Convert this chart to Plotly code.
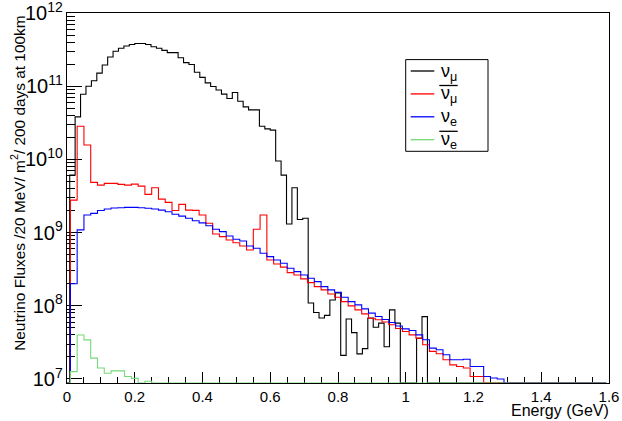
import plotly.graph_objects as go

# ---------------- data ----------------
# nu_mu: 0.016 GeV bins centred at k*0.016 (k = 0..99)
numu_bin_width = 0.016
numu = [0, 6.1e9, 3.81e10, 7.76e10, 1.0e11, 1.19e11, 1.51e11, 1.95e11, 2.51e11, 3.0e11,
        3.31e11, 3.55e11, 3.71e11, 3.83e11, 3.83e11, 3.71e11, 3.47e11, 3.30e11, 3.09e11, 2.88e11,
        2.88e11, 2.45e11, 2.10e11, 1.98e11, 1.55e11, 1.32e11, 1.11e11, 9.9e10, 8.9e10, 7.8e10,
        6.8e10, 8.2e10, 6.24e10, 5.22e10, 4.75e10, 4.75e10, 2.84e10, 2.61e10, 2.51e10, 9.5e9,
        6.1e9, 1.31e9, 4.1e9, 1.51e9, 1.57e9, 1.09e8, 8.1e7, 6.8e7, 7.4e7, 1.2e8,
        1.5e8, 2.1e7, 6.6e7, 4.3e7, 2.2e7, 2.6e7, 6.8e7, 5.1e7, 5.8e7, 2.75e7,
        8.8e7, 5.8e7, 0, 0, 0, 3.6e7, 7.1e7, 0, 0, 0,
        0, 0, 0, 0, 0, 0, 0, 0, 0, 0,
        0, 0, 0, 0, 0, 0, 0, 0, 0, 0,
        0, 0, 0, 0, 0, 0, 0, 0, 0, 0]

# other flavours: 0.02 GeV bins centred at k*0.02 (k = 0..79)
other_bin_width = 0.02
numubar = [0, 2.78e9, 2.84e10, 1.57e10, 4.85e9, 4.46e9, 4.70e9, 4.70e9, 4.56e9, 4.46e9,
           4.60e9, 4.32e9, 3.33e9, 4.10e9, 2.87e9, 2.59e9, 2.0e9, 2.43e9, 2.03e9, 2.01e9,
           1.74e9, 1.34e9, 9.55e8, 8.8e8, 7.94e8, 7.28e8, 6.56e8, 5.79e8, 1.11e9, 1.74e9,
           4.23e8, 3.72e8, 3.37e8, 2.84e8, 2.64e8, 2.33e8, 2.07e8, 1.83e8, 1.65e8, 1.45e8,
           1.31e8, 1.14e8, 9.98e7, 8.8e7, 7.76e7, 6.76e7, 6.46e7, 6.0e7, 5.5e7, 4.9e7,
           4.45e7, 4.0e7, 3.61e7, 2.93e7, 2.38e7, 2.21e7, 1.83e7, 1.56e7, 1.48e7, 1.41e7,
           1.08e7, 1.08e7, 0, 0, 0, 0, 0, 0, 0, 0,
           0, 0, 0, 0, 0, 0, 0, 0, 0, 0]

nue = [0, 2.0e8, 1.09e9, 1.74e9, 1.83e9, 2.0e9, 2.10e9, 2.17e9, 2.19e9, 2.21e9,
       2.21e9, 2.19e9, 2.15e9, 2.10e9, 2.03e9, 1.93e9, 1.78e9, 1.68e9, 1.57e9, 1.45e9,
       1.36e9, 1.24e9, 1.11e9, 1.03e9, 9.0e8, 8.1e8, 7.67e8, 6.56e8, 6.11e8, 5.22e8,
       4.69e8, 4.23e8, 3.81e8, 3.26e8, 2.93e8, 2.64e8, 2.38e8, 2.14e8, 1.83e8, 1.65e8,
       1.53e8, 1.31e8, 1.14e8, 1.03e8, 9.08e7, 7.94e7, 7.13e7, 6.5e7, 5.9e7, 5.3e7,
       4.84e7, 4.59e7, 4.01e7, 3.43e7, 2.64e7, 2.51e7, 2.14e7, 1.83e7, 1.83e7, 1.86e7,
       1.48e7, 1.48e7, 1.08e7, 1.03e7, 1.0e7, 0, 0, 0, 0, 0,
       0, 0, 0, 0, 0, 0, 0, 0, 0, 0]

nuebar = [0, 1.26e7, 3.98e7, 3.42e7, 1.93e7, 1.41e7, 1.2e7, 1.29e7, 1.29e7, 1.08e7,
          1.02e7, 0, 9.3e6, 0, 0, 0, 0, 0, 0, 0] + [0] * 60

x_title = "Energy (GeV)"
y_title = "Neutrino Fluxes /20 MeV/ m<sup>2</sup>/ 200 days at 100km"
legend_labels = ["ν<sub>μ</sub>", "ν<sub>μ</sub>", "ν<sub>e</sub>", "ν<sub>e</sub>"]
legend_overline = [False, True, False, True]

# ---------------- styling / layout ----------------
W, H = 622, 421
L, R, T, B = 67, 609, 12.7, 382.7
YMIN, YMAX = 6.945, 12.0005
FLOOR = 10 ** YMIN
FONT = "Liberation Sans, Arial, Helvetica, sans-serif"

colors = ["#000000", "#ff0000", "#0000ff", "#77d877"]


def px_x(px):
    return (px - L) / (R - L)


def px_y(py):
    return 1 - (py - T) / (B - T)


def step_trace(values, width, color):
    n = len(values)
    edges = [(k - 0.5) * width for k in range(n + 1)]
    ys = [v if v > 0 else FLOOR for v in values]
    ys = ys + [ys[-1]]
    return go.Scatter(x=edges, y=ys, mode="lines", line=dict(color=color, width=1.1, shape="hv"),
                      hoverinfo="skip", showlegend=False)


fig = go.Figure()
fig.add_trace(step_trace(numu, numu_bin_width, colors[0]))
fig.add_trace(step_trace(numubar, other_bin_width, colors[1]))
fig.add_trace(step_trace(nue, other_bin_width, colors[2]))
fig.add_trace(step_trace(nuebar, other_bin_width, colors[3]))

fig.update_layout(
    width=W, height=H,
    margin=dict(l=L, r=W - R, t=T, b=H - B, autoexpand=False),
    paper_bgcolor="white", plot_bgcolor="white",
    font=dict(family=FONT, color="black", size=15),
)
fig.update_xaxes(
    range=[0, 1.6], dtick=0.2, showgrid=False, zeroline=False,
    showline=True, mirror=True, linecolor="black", linewidth=1,
    ticks="inside", ticklen=11, tickcolor="black", tickwidth=1,
    minor=dict(dtick=0.05, ticks="inside", ticklen=6, tickcolor="black", showgrid=False),
    tickfont=dict(size=15), layer="below traces", ticklabeloverflow="allow",
)
fig.update_yaxes(
    type="log", range=[YMIN, YMAX], dtick=1, exponentformat="power",
    showgrid=False, zeroline=False,
    showline=True, mirror=True, linecolor="black", linewidth=1,
    ticks="inside", ticklen=15, tickcolor="black", tickwidth=1,
    minor=dict(dtick="D1", ticks="inside", ticklen=8, tickcolor="black", showgrid=False),
    tickfont=dict(size=16), layer="below traces", ticklabeloverflow="allow",
)

# axis titles (ROOT style: aligned to the axis end)
fig.add_annotation(text=x_title, xref="paper", yref="paper", x=px_x(611), y=px_y(410),
                   xanchor="right", yanchor="middle", showarrow=False, font=dict(size=16))
fig.add_annotation(text=y_title, xref="paper", yref="paper", x=px_x(18), y=px_y(14),
                   xanchor="center", yanchor="top", textangle=-90, showarrow=False,
                   font=dict(size=15.4))

# legend box
lx0, ly0, lx1, ly1 = 405.7, 59.3, 488, 151
fig.add_shape(type="rect", xref="paper", yref="paper", x0=px_x(lx0), x1=px_x(lx1),
              y0=px_y(ly1), y1=px_y(ly0), line=dict(color="black", width=1), fillcolor="white",
              layer="above")
entry_y = [70.7, 93.6, 116.5, 139.4]
for i, (lab, ov) in enumerate(zip(legend_labels, legend_overline)):
    yy = entry_y[i]
    fig.add_shape(type="line", xref="paper", yref="paper", x0=px_x(410.7), x1=px_x(434.3),
                  y0=px_y(yy), y1=px_y(yy), line=dict(color=colors[i], width=1.3), layer="above")
    fig.add_annotation(text=lab, xref="paper", yref="paper", x=px_x(439), y=px_y(yy + 1),
                       xanchor="left", yanchor="middle", showarrow=False, font=dict(size=18))
    if ov:
        fig.add_shape(type="line", xref="paper", yref="paper", x0=px_x(439.3), x1=px_x(457.7),
                      y0=px_y(yy - 8.4), y1=px_y(yy - 8.4), line=dict(color="black", width=1.3),
                      layer="above")

fig.write_html("out.html", config={"displayModeBar": False},
               post_script="document.body.style.margin='0px';")
